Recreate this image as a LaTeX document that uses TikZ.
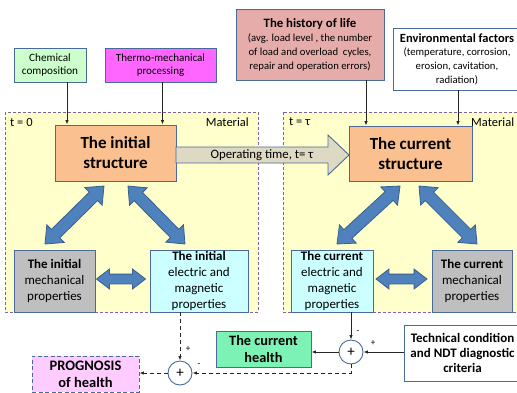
\documentclass[tikz,border=0pt]{standalone}
\usepackage{fontspec}
\setmainfont{Carlito}
\usetikzlibrary{arrows.meta,shapes.arrows}
\definecolor{bord}{HTML}{4A6A9A}
\definecolor{chemc}{HTML}{CCFFCC}
\definecolor{thermc}{HTML}{FF66FF}
\definecolor{histc}{HTML}{E6ACAA}
\definecolor{contc}{HTML}{FFFFCC}
\definecolor{contb}{HTML}{8064A2}
\definecolor{structc}{HTML}{FAC090}
\definecolor{mechc}{HTML}{BFBFBF}
\definecolor{elecc}{HTML}{CCFFFF}
\definecolor{healthc}{HTML}{7DF2B5}
\definecolor{progc}{HTML}{FFCCFF}
\definecolor{opc}{HTML}{DDD9C3}
\definecolor{bluef}{HTML}{4F81BD}
\definecolor{blued}{HTML}{3A5F8F}
\tikzset{
  box/.style={draw=bord, line width=0.9pt, align=center, inner sep=1pt},
  container/.style={draw=contb, fill=contc, line width=1pt, dash pattern=on 3pt off 2pt},
  conn/.style={-{Latex[length=4.5pt,width=3.5pt]}, line width=0.9pt, black!85},
  dconn/.style={conn, dash pattern=on 4pt off 3pt},
  blueda/.style={double arrow, draw=blued, fill=bluef, line width=0.8pt, inner xsep=0pt, inner ysep=5.5pt, double arrow head extend=6.5pt, double arrow tip angle=80},
  bluedh/.style={blueda, inner ysep=4.5pt, double arrow head extend=5pt, double arrow tip angle=75},
  sumnode/.style={circle, draw=bord, fill=white, line width=0.9pt, minimum size=24pt, inner sep=0pt, font=\fontsize{15}{15}\selectfont},
  lbl/.style={inner sep=0pt, font=\fontsize{9}{9}\selectfont},
  clbl/.style={inner sep=0pt, font=\fontsize{12.5}{14}\selectfont}
}
\begin{document}
\begin{tikzpicture}[x=1pt,y=-1pt]
\useasboundingbox (0,0) rectangle (517,392);
\clip (0,0) rectangle (517,392);
\fill[white] (0,0) rectangle (517,392);

% containers
\draw[container] (5,112) rectangle (258,312);
\draw[container] (283,112) rectangle (530,312);
\node[clbl, anchor=west] (t0) at (10,122) {t = 0};
\node[clbl, anchor=east] (mat1) at (249,122) {Material};
\node[clbl, anchor=west] (tt) at (289,122) {t = τ};
\node[clbl, anchor=west] (mat2) at (471,122) {Material};

% top boxes
\node[box, fill=chemc, minimum width=72pt, minimum height=34pt, font=\fontsize{11.2}{13.3}\selectfont] (chem) at (50,65) {Chemical\\composition};
\node[box, fill=thermc, minimum width=111pt, minimum height=34pt, font=\fontsize{11}{13.3}\selectfont] (thermo) at (160.5,65) {Thermo-mechanical\\processing};
\node[box, fill=histc, minimum width=148pt, minimum height=71pt, font=\fontsize{10.7}{14}\selectfont] (hist) at (310,44.5) {{\bfseries\fontsize{12.8}{14}\selectfont The history of life}\\(avg. load level , the number\\of load and overload\ \ cycles,\\repair and operation errors)};
\node[box, fill=white, minimum width=128pt, minimum height=62pt, font=\fontsize{10.7}{13.7}\selectfont] (env) at (457,59) {{\bfseries\fontsize{12.5}{13.7}\selectfont Environmental factors}\\(temperature, corrosion,\\erosion, cavitation,\\radiation)};

% structures
\node[box, fill=structc, minimum width=121pt, minimum height=56pt, font=\bfseries\fontsize{17}{20}\selectfont] (istruct) at (115.5,153) {The initial\\structure};
\node[box, fill=structc, minimum width=123pt, minimum height=55pt, font=\bfseries\fontsize{17}{20}\selectfont] (cstruct) at (410.5,153.5) {The current\\structure};

% operating time arrow
\filldraw[fill=opc, draw=bord, line width=0.9pt] (176,147) -- (328,147) -- (328,135) -- (349,155) -- (328,175) -- (328,163) -- (176,163) -- cycle;
\node[inner sep=0pt, font=\fontsize{12.8}{14}\selectfont] (optime) at (262,155) {Operating time, t= τ};

% property boxes
\node[box, fill=mechc, minimum width=81pt, minimum height=62pt, font=\fontsize{13}{15.7}\selectfont] (mech1) at (54.5,281) {\textbf{The initial}\\mechanical\\properties};
\node[box, fill=elecc, minimum width=98pt, minimum height=62pt, font=\fontsize{13}{15.7}\selectfont] (elec1) at (199,281) {\textbf{The initial}\\electric and\\magnetic\\properties};
\node[box, fill=elecc, minimum width=82pt, minimum height=62pt, font=\fontsize{13}{15.7}\selectfont] (elec2) at (332,281) {\textbf{The current}\\electric and\\magnetic\\properties};
\node[box, fill=mechc, minimum width=80pt, minimum height=62pt, font=\fontsize{13}{15.7}\selectfont] (mech2) at (472,281) {\textbf{The current}\\mechanical\\properties};

% blue double arrows
\node[blueda, minimum height=82.7pt, rotate=44.5] (da1) at (74.5,215) {};
\node[blueda, minimum height=81.3pt, rotate=-45.5] (da2) at (156.5,215) {};
\node[blueda, minimum height=85.6pt, rotate=42.6] (da3) at (368.5,215) {};
\node[blueda, minimum height=82pt, rotate=-45] (da4) at (448,215) {};
\node[bluedh, minimum height=49pt] (da5) at (121,279) {};
\node[bluedh, minimum height=51pt] (da6) at (401.5,279) {};

% bottom
\node[box, fill=healthc, minimum width=95pt, minimum height=36pt, font=\bfseries\fontsize{14.3}{17}\selectfont] (health) at (263.5,349) {The current\\health};
\node[box, fill=white, minimum width=117pt, minimum height=56pt, font=\bfseries\fontsize{13}{15}\selectfont] (tech) at (462.5,353) {Technical condition\\and NDT diagnostic\\criteria};
\node[box, fill=progc, dash pattern=on 4pt off 2.5pt, minimum width=107pt, minimum height=36pt, font=\bfseries\fontsize{14.5}{17}\selectfont] (prog) at (85.5,374) {PROGNOSIS\\of health};
\node[sumnode] (sumL) at (180,373) {+};
\node[sumnode] (sumR) at (351,352) {+};

% connectors
\coordinate (c1) at ([xshift=17pt]chem.south);
\draw[conn] (c1) -- (c1 |- istruct.north);
\coordinate (c2) at ([xshift=2pt]thermo.south);
\draw[conn] (c2) -- (c2 |- istruct.north);
\coordinate (c3) at ([xshift=56pt]hist.south);
\draw[conn] (c3) -- (c3 |- cstruct.north);
\coordinate (c4) at ([xshift=1pt]env.south);
\draw[conn] (c4) -- (c4 |- cstruct.north);

\draw[dconn] (sumL |- elec1.south) -- (sumL.north);
\draw[conn] (sumR |- elec2.south) -- (sumR.north);
\draw[conn] (tech.west |- sumR) -- (sumR.east);
\draw[conn] (sumR.west) -- (health.east |- sumR);
\draw[dconn] (sumR.south) |- (sumL.east);
\draw[dconn] (sumL.west) -- (prog.east |- sumL);

\node[lbl] (pL1) at (188,349) {+};
\node[lbl] (mL1) at (199,365) {-};
\node[lbl] (mR1) at (358,332) {-};
\node[lbl] (pR1) at (373,343) {+};
\end{tikzpicture}
\end{document}
